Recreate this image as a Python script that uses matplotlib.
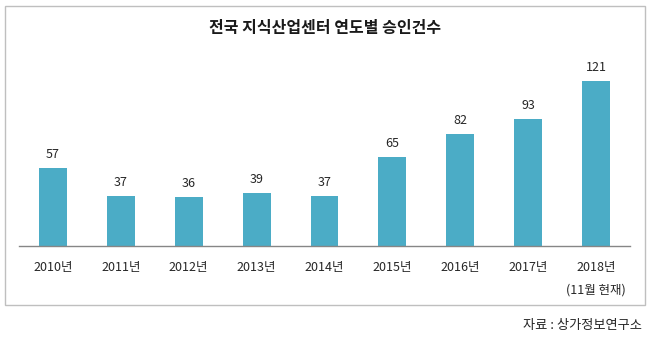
import matplotlib
matplotlib.use("Agg")
import matplotlib.pyplot as plt
from matplotlib.patches import Rectangle

plt.rcParams['font.family'] = ['Noto Sans CJK KR', 'DejaVu Sans']

years = ["2010년", "2011년", "2012년", "2013년", "2014년", "2015년", "2016년", "2017년", "2018년\n(11월 현재)"]
counts = [57, 37, 36, 39, 37, 65, 82, 93, 121]
title = "전국 지식산업센터 연도별 승인건수"
source = "자료 : 상가정보연구소"

W, H = 650, 342
fig = plt.figure(figsize=(W/100, H/100), dpi=100)

# outer frame
fig.patches.append(Rectangle((5/W, 1-305/H), 640/W, 299/H, transform=fig.transFigure,
                             fill=False, edgecolor='#BFBFBF', linewidth=1.0))

ax = fig.add_axes([19/W, 1-246/H, 611/W, 191/H])
x = list(range(len(years)))
bars = ax.bar(x, counts, width=0.41, color='#4BACC6')
ax.set_xlim(-0.5, 8.5)
ax.set_ylim(0, 140)
for s in ['top', 'right', 'left']:
    ax.spines[s].set_visible(False)
ax.spines['bottom'].set_color('#868686')
ax.spines['bottom'].set_linewidth(1.0)
ax.set_yticks([])
ax.set_xticks(x)
ax.set_xticklabels(years, fontsize=9, color='#262626', linespacing=1.9, va='top')
ax.tick_params(axis='x', length=0, pad=11)
for xi, v in zip(x, counts):
    ax.annotate(str(v), (xi, v), xytext=(0, 5), textcoords='offset points',
                ha='center', va='bottom', fontsize=9, color='#262626')

fig.text(325/W, 1-28/H, title, ha='center', va='center', fontsize=11.5,
         fontweight='bold', color='#1a1a1a')
fig.text(642/W, 1-325/H, source, ha='right', va='center', fontsize=9.5, color='#262626')

fig.savefig("out.png", dpi=100)
